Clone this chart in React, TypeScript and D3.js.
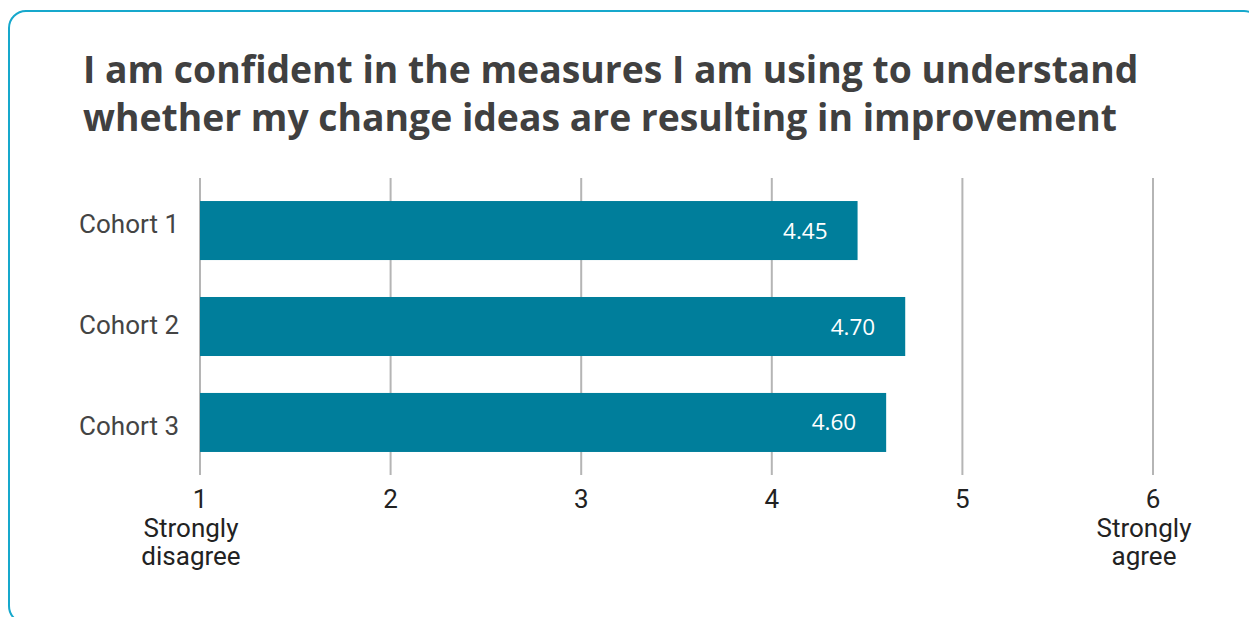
import React, { useRef, useEffect } from 'react';
import * as d3 from 'd3';

const titleLines = [
  'I am confident in the measures I am using to understand',
  'whether my change ideas are resulting in improvement',
];
const cohorts = ['Cohort 1', 'Cohort 2', 'Cohort 3'];
const scores = [4.45, 4.7, 4.6];
const tickValues = [1, 2, 3, 4, 5, 6];
const tickSubLabels: Record<number, string[]> = {
  1: ['Strongly', 'disagree'],
  6: ['Strongly', 'agree'],
};

const W = 1249;
const H = 617;

const App: React.FC = () => {
  const svgRef = useRef<SVGSVGElement | null>(null);

  useEffect(() => {
    if (!svgRef.current) return;
    const svg = d3.select(svgRef.current);
    svg.selectAll('*').remove();

    const margin = { top: 178, right: 96, bottom: 142, left: 200 };
    const innerW = W - margin.left - margin.right;
    const innerH = H - margin.top - margin.bottom;

    // card border
    svg.append('rect')
      .attr('x', 9)
      .attr('y', 11)
      .attr('width', 1252)
      .attr('height', 612)
      .attr('rx', 17)
      .attr('fill', 'white')
      .attr('stroke', '#16a8cc')
      .attr('stroke-width', 2);

    // title
    const title = svg.append('text')
      .attr('x', 83)
      .attr('y', 83)
      .attr('font-family', '"Open Sans", sans-serif')
      .attr('font-weight', 700)
      .attr('font-size', '37.3px')
      .attr('fill', '#404040');
    titleLines.forEach((t, i) => {
      title.append('tspan')
        .attr('x', 83)
        .attr('dy', i === 0 ? 0 : 48)
        .text(t);
    });

    const g = svg.append('g')
      .attr('transform', `translate(${margin.left},${margin.top})`);

    const x = d3.scaleLinear().domain([1, 6]).range([0, innerW]);
    const y = d3.scaleBand<string>()
      .domain(cohorts)
      .range([0, innerH])
      .paddingInner(0.385)
      .paddingOuter(0.24);
    // category labels sit on a slightly wider spacing than the bars
    const yLabel = d3.scalePoint<string>()
      .domain(cohorts)
      .range([55, 257]);

    // grid lines
    g.selectAll('.grid')
      .data(tickValues)
      .enter()
      .append('line')
      .attr('class', 'grid')
      .attr('x1', d => x(d))
      .attr('x2', d => x(d))
      .attr('y1', 0)
      .attr('y2', innerH)
      .attr('stroke', '#b5b5b5')
      .attr('stroke-width', 2);

    // bars
    g.selectAll('.bar')
      .data(scores)
      .enter()
      .append('rect')
      .attr('class', 'bar')
      .attr('x', x(1))
      .attr('y', (_, i) => y(cohorts[i]) || 0)
      .attr('width', d => x(d) - x(1))
      .attr('height', y.bandwidth())
      .attr('fill', '#007e9b');

    // value labels
    g.selectAll('.val')
      .data(scores)
      .enter()
      .append('text')
      .attr('class', 'val')
      .attr('x', d => x(d) - 30)
      .attr('y', (_, i) => (y(cohorts[i]) || 0) + y.bandwidth() / 2 + 8)
      .attr('text-anchor', 'end')
      .attr('font-family', '"Open Sans", sans-serif')
      .attr('font-size', '22.5px')
      .attr('fill', 'white')
      .text(d => d.toFixed(2));

    // category labels
    g.selectAll('.cat')
      .data(cohorts)
      .enter()
      .append('text')
      .attr('class', 'cat')
      .attr('x', -21)
      .attr('y', d => yLabel(d) || 0)
      .attr('text-anchor', 'end')
      .attr('font-family', 'Roboto, sans-serif')
      .attr('font-size', '26px')
      .attr('fill', '#444444')
      .text(d => d);

    // x tick labels
    const ticks = g.selectAll('.tick')
      .data(tickValues)
      .enter()
      .append('text')
      .attr('class', 'tick')
      .attr('x', d => x(d))
      .attr('y', innerH + 33)
      .attr('text-anchor', 'middle')
      .attr('font-family', 'Roboto, sans-serif')
      .attr('font-size', '26px')
      .attr('fill', '#222222');
    ticks.append('tspan')
      .attr('x', d => x(d))
      .text(d => String(d));
    ticks.each(function (d) {
      const subs = tickSubLabels[d] || [];
      subs.forEach(s => {
        d3.select(this).append('tspan')
          .attr('x', x(d) - 9)
          .attr('dy', 28.5)
          .text(s);
      });
    });
  }, []);

  return (
    <svg
      ref={svgRef}
      width={W}
      height={H}
      style={{ position: 'absolute', left: 0, top: 0, display: 'block' }}
    />
  );
};

export default App;
